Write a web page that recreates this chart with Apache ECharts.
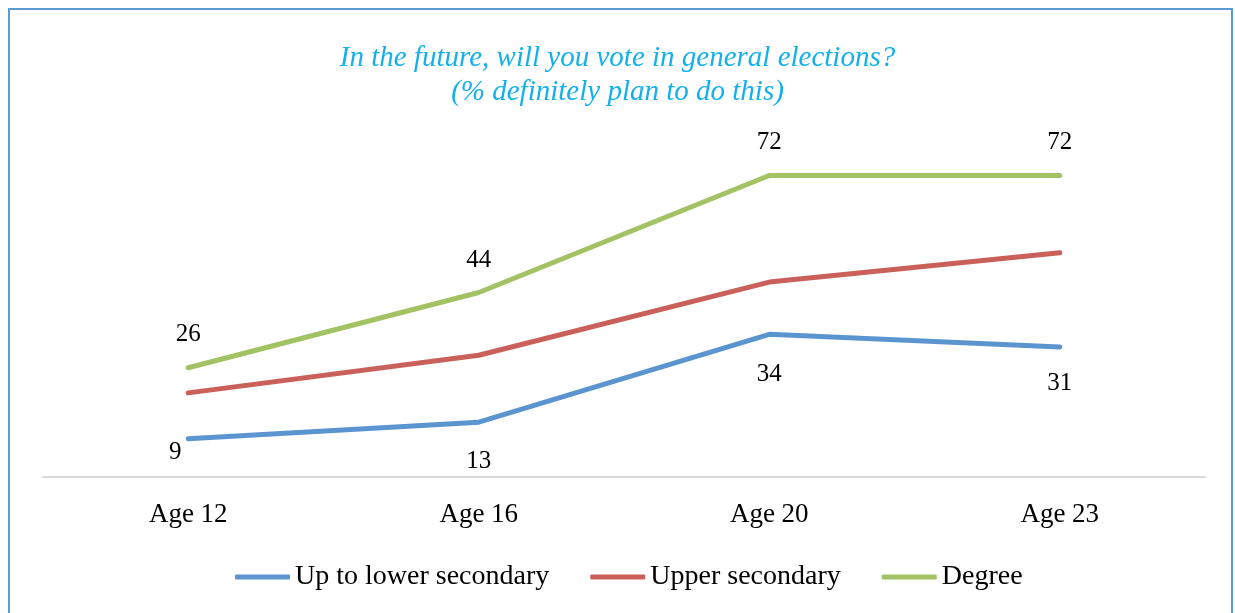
<!DOCTYPE html>
<html>
<head>
<meta charset="utf-8">
<script src="https://cdn.jsdelivr.net/npm/echarts@6/dist/echarts.min.js"></script>
<style>
html,body{margin:0;padding:0;background:#fff;}
#chart{width:1235px;height:613px;}
</style>
</head>
<body>
<div id="chart"></div>
<script>
const categories = ['Age 12', 'Age 16', 'Age 20', 'Age 23'];
const seriesNames = ['Up to lower secondary', 'Upper secondary', 'Degree'];
const lowerSecondary = [9, 13, 34, 31];
const upperSecondary = [20, 29, 46.5, 53.5];
const degree = [26, 44, 72, 72];
const titleLines = ['In the future, will you vote in general elections?', '(% definitely plan to do this)'];

const serif = '"Liberation Serif", "Times New Roman", serif';
const colors = ['#5B95CF', '#C9605A', '#A3C264'];

const blueOffsets = [[-13, 14], [0, 39], [0, 40], [0, 37]];
const greenOffsets = [[0, -33], [0, -32], [0, -33], [0, -33]];

function labelled(values, offsets) {
  return values.map((v, i) => ({
    value: v,
    label: { show: true, position: 'inside', offset: offsets[i] }
  }));
}

const chart = echarts.init(document.getElementById('chart'));
const labelStyle = { color: '#000', fontFamily: serif, fontSize: 25 };

chart.setOption({
  animation: false,
  color: colors,
  graphic: [{
    type: 'rect',
    shape: { x: 9, y: 9, width: 1223, height: 620 },
    style: { fill: 'none', stroke: '#5B9BD5', lineWidth: 2 },
    silent: true
  }],
  title: {
    text: titleLines.join('\n'),
    left: 'center',
    top: 36,
    textStyle: {
      color: '#14B0EC',
      fontFamily: serif,
      fontStyle: 'italic',
      fontWeight: 'normal',
      fontSize: 29,
      lineHeight: 34
    }
  },
  legend: {
    bottom: 17,
    left: 230,
    itemWidth: 55,
    itemHeight: 5,
    itemGap: 41,
    icon: 'roundRect',
    textStyle: { color: '#000', fontFamily: serif, fontSize: 28 },
    data: seriesNames
  },
  grid: { left: 43, right: 30, top: 142, bottom: 136.5, containLabel: false },
  xAxis: {
    type: 'category',
    data: categories,
    boundaryGap: true,
    axisLine: { lineStyle: { color: '#D9D9D9', width: 2 } },
    axisTick: { show: false },
    axisLabel: { color: '#000', fontFamily: serif, fontSize: 27, margin: 25 }
  },
  yAxis: {
    type: 'value',
    min: 0, max: 80,
    show: false,
    splitLine: { show: false }
  },
  series: [
    {
      name: seriesNames[0], type: 'line',
      data: labelled(lowerSecondary, blueOffsets),
      symbol: 'circle', symbolSize: 1,
      lineStyle: { width: 5, cap: 'round', join: 'round' },
      label: labelStyle
    },
    {
      name: seriesNames[1], type: 'line',
      data: upperSecondary,
      symbol: 'circle', symbolSize: 1,
      lineStyle: { width: 5, cap: 'round', join: 'round' },
      label: { show: false }
    },
    {
      name: seriesNames[2], type: 'line',
      data: labelled(degree, greenOffsets),
      symbol: 'circle', symbolSize: 1,
      lineStyle: { width: 5, cap: 'round', join: 'round' },
      label: labelStyle
    }
  ]
});
</script>
</body>
</html>
